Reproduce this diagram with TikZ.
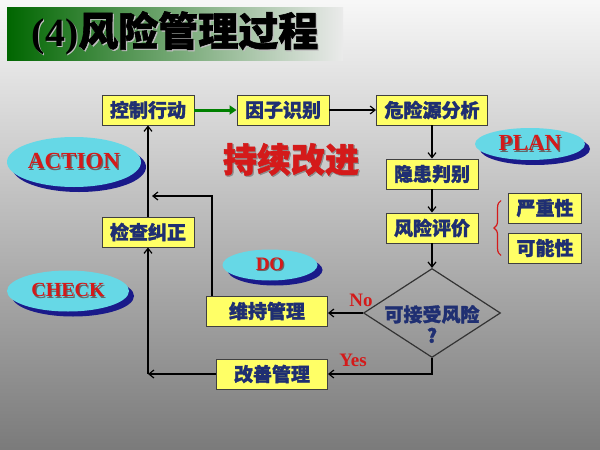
\documentclass[tikz,border=0pt]{standalone}
\usepackage{fontspec}
\setmainfont{Liberation Serif}
\newfontfamily\cjk{Noto Sans CJK SC}[BoldFeatures={FakeBold=1.5}]
\usetikzlibrary{arrows.meta, positioning, shapes.geometric, shadows, decorations.pathreplacing}
\definecolor{boxfill}{HTML}{FFFF66}
\definecolor{navytext}{HTML}{1F2F72}
\definecolor{redtext}{HTML}{D41A1A}
\definecolor{skyfill}{HTML}{66D8E6}
\definecolor{deepblue}{HTML}{1A1A8A}
\newcommand{\shadowed}[2]{\makebox[0pt][l]{\kern1.2pt\raisebox{-1.2pt}{\textcolor{#1}{#2}}}#2}

\begin{document}
\begin{tikzpicture}[
  x=1pt, y=-1pt,
  box/.style={rectangle, draw=black!75, line width=0.9pt, fill=boxfill, text=navytext,
    font=\cjk\bfseries\fontsize{19}{21}\selectfont, minimum height=30pt, inner xsep=8pt, inner ysep=0pt},
  phase/.style={ellipse, fill=skyfill, text=redtext, inner sep=0pt,
    font=\bfseries\fontsize{21}{23}\selectfont,
    drop shadow={shadow xshift=5pt, shadow yshift=-5pt, fill=deepblue, opacity=1}},
  arr/.style={-{Straight Barb[length=5pt, width=8pt]}, line width=1.2pt},
  tag/.style={text=redtext, font=\bfseries\fontsize{19}{21}\selectfont, inner sep=0pt},
]
\shade[top color=black!3, middle color=black!22, bottom color=black!52] (0,0) rectangle (600,450);
\useasboundingbox (0,0) rectangle (600,450);

% title
\node[left color=green!40!black, right color=black!8, minimum width=336pt, minimum height=53pt,
  inner sep=0pt, font=\bfseries\fontsize{40}{42}\selectfont] (title) at (175,33.5)
  {\shadowed{white!75!black}{(4)\cjk 风险管理过程}};

% plan steps
\node[box] (ctrl) at (148,110) {控制行动};
\node[box] (factor) at (283,110) {因子识别};
\node[box] (hazard) at (432,110) {危险源分析};
\node[box] (hidden) at (432,174) {隐患判别};
\node[box] (eval) at (432,228) {风险评价};
\node[box, minimum width=73pt] (sev) at (545,208) {严重性};
\node[box, minimum width=73pt] (poss) at (545,248) {可能性};
\node[diamond, draw=black!80, line width=1.2pt, minimum width=137pt, minimum height=89pt,
  inner sep=0pt] (acc) at (432,313) {};
\node[text=navytext, font=\cjk\bfseries\fontsize{19}{21}\selectfont, align=center] (acctext)
  at (432,324) {可接受风险\\?};
\node[box, minimum width=121pt] (keep) at (267,311) {维持管理};
\node[box, minimum width=111pt] (improve) at (272,374) {改善管理};
\node[box] (check) at (148,232) {检查纠正};

% phases
\node[phase, minimum width=134pt, minimum height=50pt, font=\bfseries\fontsize{23}{25}\selectfont]
  (act) at (74,162) {\shadowed{black!60}{ACTION}};
\node[phase, minimum width=110pt, minimum height=32pt, font=\bfseries\fontsize{23}{25}\selectfont]
  (plan) at (530,144) {\shadowed{black!60}{PLAN}};
\node[phase, minimum width=122pt, minimum height=41pt, font=\bfseries\fontsize{20}{22}\selectfont]
  (chk) at (68,291) {\shadowed{black!60}{CHECK}};
\node[phase, minimum width=95pt, minimum height=31pt, font=\bfseries\fontsize{19}{21}\selectfont]
  (do) at (270,265) {\shadowed{black!60}{DO}};

\node[text=redtext, font=\cjk\bfseries\fontsize{34}{36}\selectfont] (cont) at (291,160)
  {\shadowed{black!45}{持续改进}};
\node[tag] (no) at (361,300) {No};
\node[tag] (yes) at (353,360) {Yes};

% connectors
\draw[line width=3pt, green!50!black, -{Triangle[length=7pt, width=9pt]}] (ctrl) -- (factor);
\draw[arr] (factor) -- (hazard);
\draw[arr] (hazard) -- (hidden);
\draw[arr] (hidden) -- (eval);
\draw[arr] (eval) -- (acc);
\draw[arr] (acc.west) -- (keep.east |- acc.west);
\draw[arr] (acc.south) |- (improve.east);
\coordinate (corner) at (check |- improve);
\draw[arr] (improve.west) -- (corner);
\draw[arr] (corner) -- (check.south);
\draw[arr] (check) -- (ctrl);
\coordinate (kink) at (212,196);
\draw[arr, shorten >=4pt] (keep.north -| kink) -- (kink) -- (kink -| check);
\draw[redtext, line width=1.2pt, decorate, decoration={brace, amplitude=7pt}]
  ([xshift=-7pt, yshift=8pt]poss.south west) -- ([xshift=-7pt, yshift=-8pt]sev.north west);
\end{tikzpicture}
\end{document}
